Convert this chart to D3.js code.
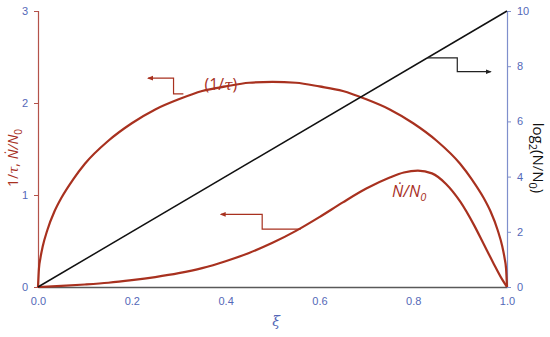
<!DOCTYPE html>
<html>
<head>
<meta charset="utf-8">
<script src="https://cdn.jsdelivr.net/npm/d3@7"></script>
<style>
  body { margin: 0; background: #fff; }
  svg { display: block; font-family: 'Open Sans', sans-serif; }
</style>
</head>
<body>
<div id="chart"></div>
<script>
'use strict'

// xi values and curves
var xiTau = [0, 0.002, 0.005, 0.01, 0.02, 0.035, 0.05, 0.075, 0.1, 0.15, 0.2, 0.25, 0.3, 0.35, 0.4, 0.45, 0.5, 0.55, 0.6, 0.65, 0.7, 0.75, 0.8, 0.85, 0.9, 0.925, 0.95, 0.965, 0.98, 0.99, 0.995, 0.998, 1]
var tauInv = [0, 0.2, 0.31, 0.44, 0.62, 0.82, 0.97, 1.17, 1.34, 1.59, 1.78, 1.93, 2.04, 2.13, 2.18, 2.22, 2.23, 2.22, 2.18, 2.13, 2.04, 1.93, 1.78, 1.59, 1.34, 1.17, 0.97, 0.82, 0.62, 0.44, 0.31, 0.2, 0]

var xiRate = [0, 0.05, 0.1, 0.15, 0.2, 0.25, 0.3, 0.35, 0.4, 0.45, 0.5, 0.55, 0.6, 0.65, 0.7, 0.75, 0.78, 0.81, 0.84, 0.87, 0.9, 0.93, 0.95, 0.97, 0.99, 1]
var rate = [0, 0.012, 0.027, 0.046, 0.074, 0.108, 0.15, 0.205, 0.28, 0.37, 0.48, 0.61, 0.76, 0.92, 1.07, 1.19, 1.245, 1.265, 1.235, 1.12, 0.93, 0.67, 0.47, 0.27, 0.08, 0]

var xiLog = [0, 1]
var logN = [0, 10]

var xTicks = [0, 0.2, 0.4, 0.6, 0.8, 1.0]
var leftTicks = [0, 1, 2, 3]
var rightTicks = [0, 2, 4, 6, 8, 10]

var red = '#a8311f'
var blue = '#5468b8'

var margin = { top: 11, right: 43, bottom: 50, left: 38 }
var W = 550, H = 337
var width = W - margin.left - margin.right
var height = H - margin.top - margin.bottom

var svg = d3.select('#chart').append('svg')
  .attr('width', W)
  .attr('height', H)

var g = svg.append('g')
  .attr('transform', 'translate(' + margin.left + ',' + margin.top + ')')

var x = d3.scaleLinear().domain([0, 1]).range([0, width])
var yL = d3.scaleLinear().domain([0, 3]).range([height, 0])
var yR = d3.scaleLinear().domain([0, 10]).range([height, 0])

// axes
var xAxis = g.append('g')
  .attr('transform', 'translate(0,' + height + ')')
  .call(d3.axisBottom(x).tickValues(xTicks).tickSize(0).tickPadding(10).tickFormat(d3.format('.1f')))
xAxis.select('.domain').attr('stroke', '#595959').attr('stroke-width', 1.5)
xAxis.selectAll('text').attr('fill', blue).attr('font-size', '11px')

var lAxis = g.append('g')
  .call(d3.axisLeft(yL).tickValues(leftTicks).tickSize(4).tickSizeOuter(4).tickPadding(6).tickFormat(d3.format('d')))
lAxis.select('.domain').attr('stroke', '#b4524a').attr('stroke-width', 1.2)
lAxis.selectAll('line').attr('stroke', '#b4524a')
lAxis.selectAll('text').attr('fill', blue).attr('font-size', '11px')

var rAxis = g.append('g')
  .attr('transform', 'translate(' + width + ',0)')
  .call(d3.axisRight(yR).tickValues(rightTicks).tickSize(4).tickSizeOuter(4).tickPadding(6).tickFormat(d3.format('d')))
rAxis.select('.domain').attr('stroke', '#7f8fcc').attr('stroke-width', 1.2)
rAxis.selectAll('line').attr('stroke', '#7f8fcc')
rAxis.selectAll('text').attr('fill', blue).attr('font-size', '11px')

// curves
var lineL = d3.line().curve(d3.curveMonotoneX)
  .x(function(d) { return x(d[0]) })
  .y(function(d) { return yL(d[1]) })

g.append('path')
  .datum(d3.zip(xiTau, tauInv))
  .attr('d', lineL)
  .attr('fill', 'none')
  .attr('stroke', red)
  .attr('stroke-width', 2.2)

g.append('path')
  .datum(d3.zip(xiRate, rate))
  .attr('d', lineL)
  .attr('fill', 'none')
  .attr('stroke', red)
  .attr('stroke-width', 2.2)

g.append('path')
  .datum(d3.zip(xiLog, logN))
  .attr('d', d3.line()
    .x(function(d) { return x(d[0]) })
    .y(function(d) { return yR(d[1]) }))
  .attr('fill', 'none')
  .attr('stroke', '#111')
  .attr('stroke-width', 1.5)

// annotation arrows (step lines)
var defs = svg.append('defs')
function marker(id, color) {
  defs.append('marker')
    .attr('id', id)
    .attr('viewBox', '0 0 10 10')
    .attr('refX', 8).attr('refY', 5)
    .attr('markerWidth', 5).attr('markerHeight', 5)
    .attr('orient', 'auto')
    .append('path')
    .attr('d', 'M0,1 L10,5 L0,9 Z')
    .attr('fill', color)
}
marker('arrRed', red)
marker('arrBlack', '#222')

function stepArrow(pts, color, mk) {
  g.append('path')
    .attr('d', d3.line()(pts))
    .attr('fill', 'none')
    .attr('stroke', color)
    .attr('stroke-width', 1.2)
    .attr('marker-end', 'url(#' + mk + ')')
}

// 1/tau arrow: from curve, step up, point left
stepArrow([
  [x(0.31), yL(2.1)],
  [x(0.289), yL(2.1)],
  [x(0.289), yL(2.27)],
  [x(0.235), yL(2.27)]
], red, 'arrRed')

// N dot arrow
stepArrow([
  [x(0.56), yL(0.63)],
  [x(0.478), yL(0.63)],
  [x(0.478), yL(0.79)],
  [x(0.39), yL(0.79)]
], red, 'arrRed')

// log2 arrow: from line, step down, point right
stepArrow([
  [x(0.83), yR(8.3)],
  [x(0.894), yR(8.3)],
  [x(0.894), yR(7.8)],
  [x(0.965), yR(7.8)]
], '#222', 'arrBlack')

// labels
var t1 = g.append('text')
  .attr('x', x(0.355)).attr('y', yL(2.14))
  .attr('fill', red).attr('font-size', '16px')
t1.append('tspan').text('(1/')
t1.append('tspan').attr('font-style', 'italic').attr('font-family', 'DejaVu Serif, serif').attr('font-size', '15px').text('τ')
t1.append('tspan').text(')')

var t2 = g.append('text')
  .attr('x', x(0.755)).attr('y', yL(0.98))
  .attr('fill', red).attr('font-size', '16px').attr('font-style', 'italic')
t2.append('tspan').text('\u1E44/N')
t2.append('tspan').attr('font-size', '11px').attr('dy', 4).text('0')

// axis titles
var lt = svg.append('text')
  .attr('transform', 'translate(18,158) rotate(-90)')
  .attr('text-anchor', 'middle')
  .attr('fill', red).attr('font-size', '14px')
lt.append('tspan').text('1/')
lt.append('tspan').attr('font-style', 'italic').attr('font-family', 'DejaVu Serif, serif').attr('font-size', '13px').text('τ')
lt.append('tspan').text(',  ')
lt.append('tspan').attr('font-style', 'italic').text('\u1E44/N')
lt.append('tspan').attr('font-size', '10px').attr('dy', 4).text('0')

var rt = svg.append('text')
  .attr('transform', 'translate(533,158) rotate(90)')
  .attr('text-anchor', 'middle')
  .attr('fill', '#111').attr('font-size', '15px')
rt.append('tspan').text('log')
rt.append('tspan').attr('font-size', '11px').attr('dy', 4).text('2')
rt.append('tspan').attr('dy', -4).text('(N/N')
rt.append('tspan').attr('font-size', '11px').attr('dy', 4).text('0')
rt.append('tspan').attr('dy', -4).text(')')

svg.append('text')
  .attr('x', 276).attr('y', 326)
  .attr('text-anchor', 'middle')
  .attr('fill', blue).attr('font-size', '14px')
  .attr('font-style', 'italic').attr('font-family', 'DejaVu Serif, serif')
  .text('ξ')
</script>
</body>
</html>
